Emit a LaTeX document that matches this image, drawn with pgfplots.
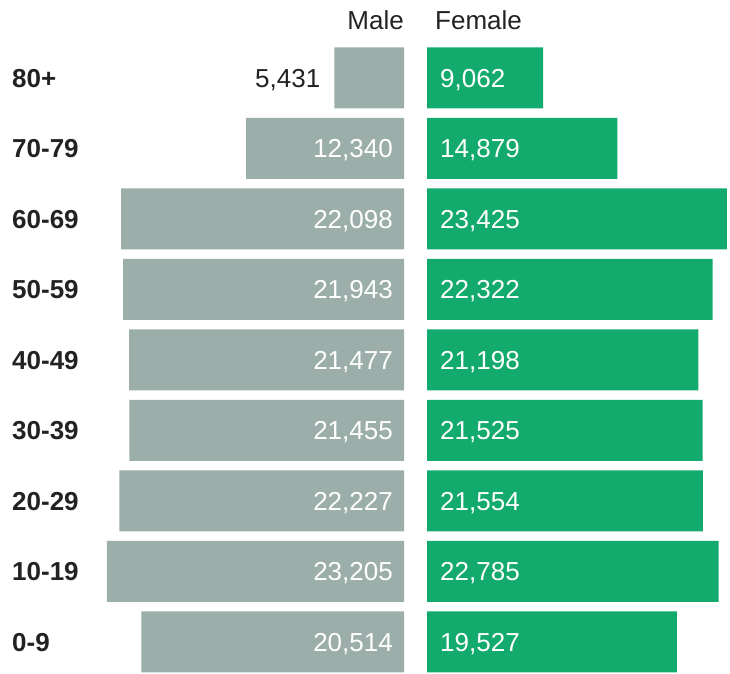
\documentclass[border=0pt]{standalone}
\usepackage{pgfplots}
\pgfplotsset{compat=1.18}
\usepackage{pgfplotstable}
\usepackage{fontspec}
\setmainfont{Liberation Sans}

\definecolor{malegray}{HTML}{9BAEAA}
\definecolor{femalegreen}{HTML}{13AA6E}
\definecolor{darktext}{HTML}{222222}

% pos 0 = 0-9 ... pos 8 = 80+
\pgfplotstableread{
pos male  female
0   20514 19527
1   23205 22785
2   22227 21554
3   21455 21525
4   21477 21198
5   21943 22322
6   22098 23425
7   12340 14879
8   5431  9062
}\pyramid

\pgfplotsset{
  pyr/.style={
    scale only axis, width=304pt, height=673pt,
    xmin=0, xmax=23750, ymin=-0.44, ymax=9.106,
    hide axis, clip=false,
    /pgf/number format/fixed,
    /pgf/number format/precision=0,
    /pgf/number format/1000 sep={,},
    /pgf/number format/assume math mode=true,
  },
  lbl/.style={only marks, mark=none, point meta=explicit, nodes near coords,
    every node near coord/.append style={inner sep=0pt,
      font=\fontsize{26}{30}\selectfont, text height=18.6pt, text depth=0pt, #1}},
}

\begin{document}
\begin{tikzpicture}[every node/.style={inner sep=0pt}]
\useasboundingbox (0pt,0pt) rectangle (730pt,673pt);

% male side
\begin{axis}[pyr, x dir=reverse, at={(100pt,0pt)}, anchor=south west]
\addplot[xbar, bar width=61pt, bar shift=0pt, fill=malegray, draw=none]
  table[x=male, y=pos] {\pyramid};
\addplot[lbl={anchor=east, xshift=-11pt, text=white},
  skip coords between index={8}{9}]
  table[x expr=0, y=pos, meta=male] {\pyramid};
\addplot[lbl={anchor=east, xshift=-14pt, text=darktext},
  skip coords between index={0}{8}]
  table[x=male, y=pos, meta=male] {\pyramid};
\end{axis}

% female side
\begin{axis}[pyr, at={(427pt,0pt)}, anchor=south west]
\addplot[xbar, bar width=61pt, bar shift=0pt, fill=femalegreen, draw=none]
  table[x=female, y=pos] {\pyramid};
\addplot[lbl={anchor=west, xshift=13pt, text=white}]
  table[x expr=0, y=pos, meta=female] {\pyramid};
\end{axis}

% headers
\node[anchor=base east, text=darktext, font=\fontsize{26}{30}\selectfont] at (404pt,643pt) {Male};
\node[anchor=base west, text=darktext, font=\fontsize{26}{30}\selectfont] at (435pt,643pt) {Female};

% age groups
\foreach \lab [count=\i from 0] in {0-9,10-19,20-29,30-39,40-49,50-59,60-69,70-79,80+}
  \node[anchor=west, text=darktext, font=\bfseries\fontsize{26}{30}\selectfont,
        text height=18.6pt, text depth=0pt] at (12pt, {(31+\i*70.5)*1pt}) {\lab};
\end{tikzpicture}
\end{document}
